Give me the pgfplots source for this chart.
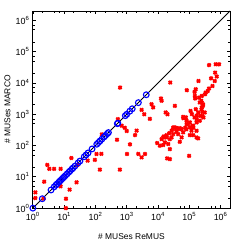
\documentclass[border=0pt]{standalone}
\usepackage{pgfplots}
\pgfplotsset{compat=1.18}
\usepackage{fontspec}
\setmainfont{Liberation Sans}
\begin{document}
\begin{tikzpicture}
\begin{loglogaxis}[
  scale only axis, width=198bp, height=198bp,
  xmin=1, xmax=2e6, ymin=1, ymax=2e6,
  axis line style={line width=0.8pt},
  every tick/.style={black, line width=0.7pt},
  major tick length=3.5bp, minor tick length=2bp,
  xtick={1,10,100,1000,10000,100000,1000000},
  ytick={1,10,100,1000,10000,100000,1000000},
  xticklabels={10\textsuperscript{0},10\textsuperscript{1},10\textsuperscript{2},10\textsuperscript{3},10\textsuperscript{4},10\textsuperscript{5},10\textsuperscript{6}},
  yticklabels={10\textsuperscript{0},10\textsuperscript{1},10\textsuperscript{2},10\textsuperscript{3},10\textsuperscript{4},10\textsuperscript{5},10\textsuperscript{6}},
  minor xtick={2,5,7,20,50,70,200,500,700,2000,5000,7000,20000,50000,70000,200000,500000,700000},
  minor ytick={2,5,7,20,50,70,200,500,700,2000,5000,7000,20000,50000,70000,200000,500000,700000},
  tick label style={font=\fontsize{9}{10}\selectfont},
  xticklabel style={yshift=-1bp},
  label style={font=\fontsize{8.5}{10}\selectfont},
  xlabel={\# MUSes ReMUS},
  ylabel={\# MUSes MARCO},
  xlabel style={at={(axis description cs:0.5,-0.142)}, anchor=center},
  ylabel style={at={(axis description cs:-0.129,0.5)}, anchor=center, rotate=0},
  clip=true,
]
\addplot[only marks, mark=x, mark size=2.2bp, line width=2pt, color=red] coordinates {
(1.2,3.2) (1.2,2.1) (2.3,7) (2.2,2) (2.9,24) (3.35,18) (4.8,18) (7.7,18) (7.7,5)
(11.4,2) (11.4,1) (15,3.9) (25,6.7) (17,40) (27,24) (56,33) (108,54) (155,54)
(96,35) (138,17) (490,153) (600,17) (1020,54) (160,227)
(610,7100) (520,700) (870,370) (1000,290) (2080,300) (1840,216) (3000,1380)
(3600,1000) (6200,2100) (7000,1650) (5500,710) (12400,3200) (13000,2700)
(17500,1140) (20000,1000) (16600,182) (27000,182) (34500,1850) (690,430)
(1270,109) (2340,54) (3000,42) (3830,54) (9400,120)
(13000,161) (15400,196) (18800,216) (27100,296) (23900,161) (30500,232)
(16600,126) (21100,112) (14600,104) (11500,99) (30500,335) (34500,380)
(39100,275) (22700,248) (23900,77) (19600,39) (23900,37) (49800,132)
(44000,335) (56500,335) (63500,263) (81500,617) (104000,548) (126000,427)
(170000,296) (104000,216) (132000,216) (191000,169) (98600,47) (73500,369)
(80000,330) (134000,369) (39100,361) (49800,361) (81500,484) (132000,427)
(170000,548) (216000,617) (63500,827) (77400,791) (170000,890) (109000,1280)
(161000,1450) (245000,1450) (312000,1140) (260000,890) (270000,1850)
(240000,2700) (65000,750) (250000,1650) (263000,1190) (221000,889)
(120000,1010) (147000,791) (283000,790) (250000,2380) (150000,3850)
(205000,3430) (153000,3190) (250000,3850) (319000,4370) (335000,4950)
(161000,6300) (83200,5860) (147000,5160) (388000,5560) (427000,6640)
(548000,8020) (650000,11600) (495000,14100) (751000,16000) (196000,11600)
(663000,21400) (427000,37400) (698000,39400) (890000,39400) (24500,10300)
(216000,2380) (275000,2090) (191000,1140) (170000,700) (30500,380) (44000,232)
(56500,182) (14600,182) (18800,182) (170000,182) (91000,484) (104000,380)
(117000,296)
};
\addplot[black, line width=0.9pt] coordinates {(1,1) (2e6,2e6)};
\addplot[only marks, mark=o, mark size=2.9bp, line width=1.1pt, color=blue] coordinates {
(1,1) (2,2) (3.8,3.8) (4.8,4.8) (5.4,5.4) (6,6) (6.7,6.7) (7.4,7.4) (8.2,8.2)
(9,9) (10,10) (11,11) (12.5,12.5) (14,14) (15.5,15.5) (17.5,17.5) (19.5,19.5)
(22,22) (28,28) (32,32) (44,44) (50,50) (58,58) (78,78) (110,110) (125,125)
(140,140) (160,160) (190,190) (210,210) (240,240) (260,260) (500,500)
(520,520) (900,900) (1000,1000) (1250,1250) (1500,1500) (2350,2350) (4200,4200)
};
\end{loglogaxis}
\path ([shift={(-33bp,-34bp)}]current axis.south west) rectangle ([shift={(13bp,11bp)}]current axis.north east);
\end{tikzpicture}
\end{document}
